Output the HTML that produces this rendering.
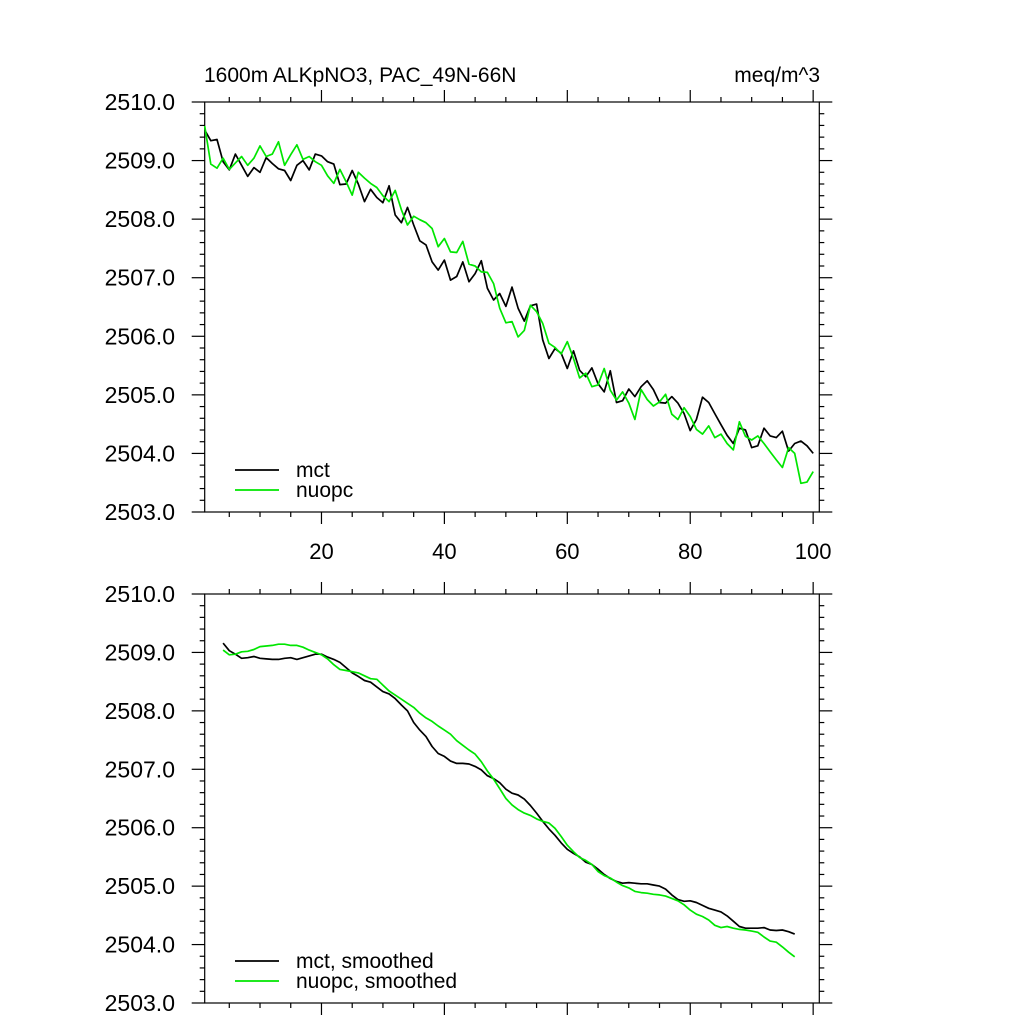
<!DOCTYPE html>
<html><head><meta charset="utf-8"><style>
html,body{margin:0;padding:0;background:#fff;}
svg{display:block;font-family:"Liberation Sans",Arial,sans-serif;}
</style></head><body>
<svg id="chart" width="1024" height="1024" viewBox="0 0 1024 1024">
<text x="204" y="82" font-size="21">1600m ALKpNO3, PAC_49N-66N</text>
<text x="820" y="82" font-size="21" text-anchor="end">meq/m^3</text>
</svg>
<script>
const mctRaw=[2509.52,2509.34,2509.36,2508.98,2508.84,2509.11,2508.92,2508.73,2508.88,2508.80,2509.05,2508.95,2508.86,2508.83,2508.66,2508.92,2509.00,2508.84,2509.11,2509.08,2508.98,2508.94,2508.59,2508.60,2508.83,2508.60,2508.30,2508.51,2508.37,2508.28,2508.57,2508.07,2507.94,2508.20,2507.90,2507.63,2507.56,2507.27,2507.13,2507.30,2506.96,2507.02,2507.27,2506.93,2507.07,2507.29,
2506.82,2506.62,2506.73,2506.51,2506.84,2506.48,2506.26,2506.52,2506.55,2505.94,2505.62,2505.79,2505.71,2505.45,2505.75,2505.42,2505.31,2505.46,2505.19,2505.05,2505.41,2504.87,2504.90,2505.10,2504.97,2505.14,2505.24,2505.09,2504.87,2504.86,2504.97,2504.86,2504.68,2504.39,2504.58,2504.96,2504.87,2504.68,2504.49,2504.31,2504.17,2504.43,2504.40,2504.10,2504.13,2504.43,2504.30,2504.27,2504.38,2504.04,2504.17,2504.21,2504.13,2504.00];
const nuopcRaw=[2509.59,2508.94,2508.87,2509.04,2508.85,2508.96,2509.07,2508.92,2509.04,2509.25,2509.07,2509.11,2509.32,2508.92,2509.10,2509.27,2509.02,2509.07,2508.98,2508.92,2508.74,2508.61,2508.85,2508.64,2508.41,2508.80,2508.70,2508.61,2508.54,2508.40,2508.30,2508.49,2508.16,2507.90,2508.05,2507.99,2507.94,2507.84,2507.53,2507.67,2507.44,2507.43,2507.62,2507.23,2507.20,2507.10,
2507.09,2506.90,2506.48,2506.23,2506.25,2505.99,2506.10,2506.53,2506.42,2506.22,2505.88,2505.81,2505.70,2505.91,2505.62,2505.29,2505.37,2505.14,2505.17,2505.45,2505.08,2504.91,2505.05,2504.86,2504.58,2505.09,2504.92,2504.81,2504.88,2505.01,2504.67,2504.58,2504.78,2504.63,2504.41,2504.33,2504.47,2504.27,2504.33,2504.17,2504.06,2504.54,2504.29,2504.23,2504.30,2504.17,2504.03,2503.89,2503.76,2504.10,2504.00,2503.49,2503.51,2503.69];
const smoothStart=4;
const mctSmooth=[2509.16,2509.03,2508.97,2508.90,2508.91,2508.93,2508.90,2508.89,2508.88,2508.88,2508.90,2508.91,2508.88,2508.91,2508.94,2508.97,2508.97,2508.92,2508.88,2508.83,2508.74,2508.65,2508.59,2508.52,2508.49,2508.41,2508.33,2508.29,2508.21,2508.10,2508.00,2507.80,2507.67,2507.56,2507.39,2507.27,2507.22,2507.14,2507.10,2507.10,2507.09,2507.05,2506.99,
2506.89,2506.84,2506.77,2506.66,2506.59,2506.56,2506.49,2506.38,2506.25,2506.11,2505.98,2505.87,2505.74,2505.63,2505.56,2505.50,2505.41,2505.37,2505.29,2505.20,2505.13,2505.08,2505.05,2505.06,2505.05,2505.04,2505.04,2505.02,2505.00,2504.95,2504.85,2504.77,2504.74,2504.75,2504.72,2504.67,2504.62,2504.59,2504.56,2504.49,2504.40,2504.31,2504.28,2504.28,2504.28,2504.29,2504.25,2504.24,2504.25,2504.22,2504.18];
const nuopcSmooth=[2509.04,2508.96,2508.97,2509.01,2509.02,2509.05,2509.10,2509.11,2509.12,2509.14,2509.14,2509.12,2509.12,2509.09,2509.04,2509.00,2508.96,2508.89,2508.79,2508.71,2508.69,2508.67,2508.65,2508.60,2508.55,2508.54,2508.44,2508.34,2508.27,2508.20,2508.13,2508.06,2507.96,2507.88,2507.82,2507.74,2507.67,2507.60,2507.49,2507.41,2507.33,2507.26,2507.13,
2506.97,2506.83,2506.67,2506.50,2506.39,2506.31,2506.25,2506.21,2506.15,2506.11,2506.08,2505.99,2505.85,2505.70,2505.59,2505.49,2505.44,2505.37,2505.25,2505.18,2505.14,2505.07,2505.01,2504.97,2504.91,2504.89,2504.88,2504.86,2504.85,2504.83,2504.79,2504.75,2504.68,2504.59,2504.52,2504.48,2504.42,2504.33,2504.29,2504.31,2504.28,2504.26,2504.25,2504.23,2504.21,2504.13,2504.06,2504.04,2503.96,2503.87,2503.79];
const yTickLabels=["2503.0","2504.0","2505.0","2506.0","2507.0","2508.0","2509.0","2510.0"];
const xTickLabels=["20","40","60","80","100"];

const NS='http://www.w3.org/2000/svg';
const svg=document.getElementById('chart');
const X0=204.7,X1=819.3,XMIN=1,XMAX=101,YMIN=2503,YMAX=2510;
function mk(tag,attrs,parent){const e=document.createElementNS(NS,tag);for(const k in attrs)e.setAttribute(k,attrs[k]);(parent||svg).appendChild(e);return e;}
function sx(v){return X0+(v-XMIN)/(XMAX-XMIN)*(X1-X0);}

function panel(top,bottom,name,series,labels,showX){
  const g=mk('g',{});
  
  
  const sy=v=>bottom-(v-YMIN)/(YMAX-YMIN)*(bottom-top);
  const ax=mk('g',{stroke:'#000','stroke-width':'1.2'},g);
  
  
  mk('rect',{x:X0,y:top,width:X1-X0,height:bottom-top,fill:'none'},ax);
  for(let i=0;i<=35;i++){const v=YMIN+i*0.2;const y=sy(v);const L=(i%5==0)?13:5;
    mk('line',{x1:X0-L,y1:y,x2:X0,y2:y},ax);mk('line',{x1:X1,y1:y,x2:X1+L,y2:y},ax);}
  for(let v=5;v<=100;v+=5){const x=sx(v);const L=(v%20==0)?12:5;
    mk('line',{x1:x,y1:bottom,x2:x,y2:bottom+L},ax);mk('line',{x1:x,y1:top-L,x2:x,y2:top},ax);}
  yTickLabels.forEach((t,i)=>{const e=mk('text',{x:175,y:sy(YMIN+i)+8,'font-size':'23','text-anchor':'end'},g);e.textContent=t;
    
    });
  if(showX){xTickLabels.forEach((t,i)=>{const e=mk('text',{x:sx(20*(i+1)),y:bottom+47,'font-size':'22','text-anchor':'middle'},g);e.textContent=t;
    
    });}
  series.forEach((s,k)=>{
    const pts=s.data.map((v,i)=>sx(s.start+i).toFixed(1)+','+sy(v).toFixed(1)).join(' ');
    const p=mk('polyline',{points:pts,fill:'none',stroke:s.color,'stroke-width':'1.7','stroke-linejoin':'round'},g);
    
    
    const ly=bottom-42+k*20;
    const li=mk('line',{x1:235,y1:ly,x2:279,y2:ly,stroke:s.color,'stroke-width':'1.7'},g);
    
    
    const lt=mk('text',{x:296,y:ly+7,'font-size':'21'},g);lt.textContent=labels[k];
    
    
  });
}
panel(102,512,'top-panel',[{data:mctRaw,start:1,color:'#000',name:'mct-line'},{data:nuopcRaw,start:1,color:'#00e600',name:'nuopc-line'}],['mct','nuopc'],true);
panel(594,1003,'bottom-panel',[{data:mctSmooth,start:smoothStart,color:'#000',name:'mct-smoothed-line'},{data:nuopcSmooth,start:smoothStart,color:'#00e600',name:'nuopc-smoothed-line'}],['mct, smoothed','nuopc, smoothed'],false);
</script>
</body></html>
